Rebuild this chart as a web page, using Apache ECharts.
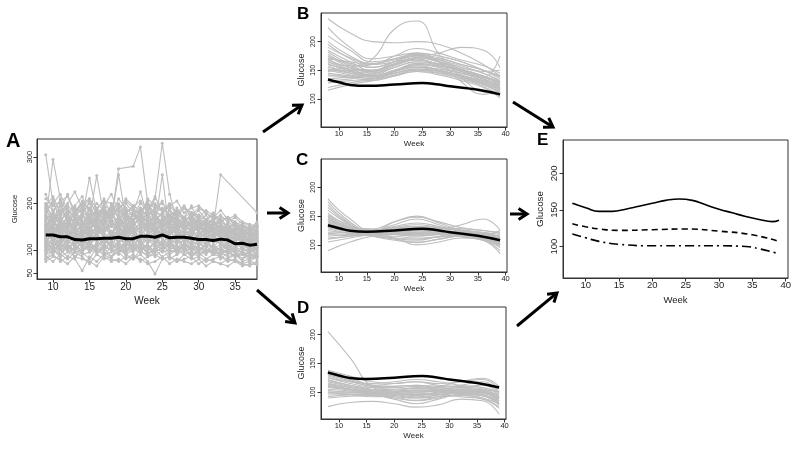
<!DOCTYPE html>
<html><head><meta charset="utf-8">
<script src="https://cdn.jsdelivr.net/npm/echarts@6/dist/echarts.min.js"></script>
<style>html,body{margin:0;padding:0;background:#fff}#c{width:800px;height:451px}</style>
</head><body><div id="c"></div>
<script>
// ---------- DATA ----------
const weeksA = [9,10,11,12,13,14,15,16,17,18,19,20,21,22,23,24,25,26,27,28,29,30,31,32,33,34,35,36,37,38];
const linesA = [
[305,200,220,185,170,190,175,180,165,195,170,180,190,175,185,170,160,175,180,165,170,155,160,150,165,150,140,155,145,150],
[160,295,210,180,175,200,190,170,185,175,160,180,175,190,170,165,180,170,155,165,170,160,150,165,145,150,155,140,130,145],
[190,175,165,180,155,170,255,180,165,175,185,160,175,170,165,180,175,160,170,155,165,150,160,145,150,140,155,135,140,130],
[140,155,150,160,145,150,165,260,170,155,150,165,175,160,150,155,165,150,145,160,140,150,155,140,145,135,150,130,140,125],
[150,165,140,155,170,150,160,175,155,165,262,165,175,170,160,175,150,165,155,145,160,150,140,155,145,135,140,125,130,135],
[170,160,180,165,150,175,160,170,185,165,275,null,280,322,200,190,185,175,160,170,165,155,160,150,145,155,140,145,130,140],
[130,145,135,150,140,130,145,155,140,150,160,145,150,170,150,140,155,145,150,135,140,130,145,135,125,140,130,120,125,115],
[145,130,150,140,135,155,140,145,160,150,140,155,165,175,180,210,330,220,165,150,155,145,140,150,135,145,130,135,120,125],
[120,140,125,135,150,130,140,135,150,140,130,145,135,150,140,150,262,135,140,130,145,125,135,140,125,130,120,125,115,120],
[135,120,130,145,125,140,130,150,135,125,145,140,150,135,145,140,130,145,135,140,125,130,120,150,262,null,null,null,null,180],
[110,125,115,130,120,110,125,135,120,130,115,125,140,120,130,125,115,130,120,125,110,120,115,125,110,115,105,115,100,110],
[125,110,120,115,130,120,110,125,115,135,125,115,120,130,115,125,135,120,115,130,120,110,125,115,120,105,115,110,105,100],
[100,115,105,120,110,95,115,105,125,110,100,120,110,105,125,115,100,110,120,105,115,100,110,105,95,110,100,95,105,90],
[115,100,110,100,120,105,100,115,105,100,115,105,100,115,105,110,100,115,105,100,110,105,95,110,100,95,105,90,95,100],
[95,105,100,110,95,100,110,95,105,115,100,95,105,100,110,95,105,100,95,110,100,105,95,100,90,100,95,90,85,95],
[90,100,85,95,105,90,95,100,90,95,105,90,100,95,90,100,85,95,100,90,95,85,100,90,95,85,90,80,90,85],
[85,75,90,80,95,85,70,90,80,85,95,80,90,75,85,90,80,85,75,90,80,85,75,80,85,75,80,70,75,70],
[80,90,75,85,80,55,85,75,90,80,75,85,80,90,75,48,80,85,75,80,85,70,80,75,70,80,75,70,65,75],
[75,85,80,70,85,80,75,65,85,75,80,70,85,80,70,75,85,70,80,75,70,80,65,75,70,65,75,65,70,68],
[155,140,160,145,135,150,145,160,140,155,145,135,150,145,160,140,150,135,145,155,140,150,135,145,130,140,135,125,130,120],
[165,180,150,170,160,175,155,165,180,160,170,155,165,175,160,170,155,165,150,160,155,145,160,150,140,150,140,135,145,130],
[200,185,195,175,190,180,200,185,175,195,180,190,175,185,195,180,190,175,185,170,180,175,165,175,160,170,155,160,150,140],
[210,195,205,215,185,200,210,190,205,200,185,210,195,205,190,200,185,195,205,180,190,195,180,170,185,165,175,160,155,150],
[105,120,110,100,115,125,105,110,120,115,105,110,125,115,100,120,110,105,115,120,100,110,115,105,110,100,105,100,95,105],
[140,125,145,130,140,120,135,145,125,140,135,130,145,125,135,145,130,140,125,135,130,140,125,130,120,135,125,115,120,110],
[120,135,125,115,130,140,120,130,115,125,140,130,120,135,125,115,130,120,135,125,130,115,125,120,115,125,110,120,115,105],
[175,165,185,170,160,180,170,185,165,175,190,170,180,165,175,185,170,160,175,165,170,160,165,155,160,150,155,145,140,150],
[135,150,140,125,145,135,150,130,145,135,125,140,150,135,145,130,140,150,130,140,135,125,140,130,135,125,130,120,125,115],
[110,95,120,105,100,115,95,110,100,120,110,95,115,100,110,95,120,105,100,115,95,105,100,95,105,90,100,95,85,95],
[95,110,90,105,115,95,110,100,90,105,95,115,100,110,90,105,95,100,110,95,105,90,100,95,90,100,85,95,90,80],
[150,170,160,145,165,155,170,150,165,160,145,165,155,170,150,160,165,145,160,150,155,165,145,155,150,140,145,150,130,135],
[185,200,175,195,180,205,185,175,195,185,200,180,195,185,175,190,200,185,170,190,180,170,185,175,165,170,160,150,145,155],
[160,120,175,140,190,130,165,145,200,150,170,135,185,155,140,175,150,190,140,165,145,170,130,160,140,155,125,145,120,140],
[130,170,125,160,140,185,135,170,150,130,175,140,160,190,135,165,145,130,170,150,125,160,140,120,150,130,145,110,135,125],
[180,140,200,160,145,175,205,150,170,190,145,180,160,140,195,165,150,185,160,140,175,150,165,140,155,130,145,135,120,130],
[110,150,120,140,105,135,115,160,125,105,140,120,150,110,135,125,105,145,115,130,110,140,120,105,125,110,100,120,95,110],
[200,165,185,220,170,195,160,185,210,175,160,200,180,225,170,190,205,165,185,170,195,160,175,150,170,145,160,140,150,135],
[145,185,160,130,170,150,190,140,165,180,155,130,175,150,185,140,170,155,135,165,150,140,160,135,145,125,140,130,115,125],
[120,100,135,115,95,125,110,140,100,120,130,105,125,95,115,135,105,120,100,125,110,95,115,105,100,115,90,105,95,85],
[175,210,155,190,165,145,185,170,150,200,165,185,150,175,200,160,180,150,190,165,155,175,150,165,140,160,150,130,140,145],
[100,130,90,120,105,135,95,115,130,100,120,90,130,110,95,120,105,125,90,115,100,120,95,110,85,105,95,80,100,90],
[190,155,170,150,185,160,140,175,155,190,170,150,165,185,155,175,160,140,170,155,180,150,135,160,150,130,145,135,125,135],
[135,160,145,175,130,155,170,140,160,135,150,175,140,160,170,135,155,175,145,160,135,150,165,140,130,150,135,125,140,120],
[165,140,155,130,160,145,125,155,140,165,130,150,145,125,155,160,140,130,155,145,160,135,150,140,125,135,120,140,115,120],
[115,135,100,125,140,110,130,120,105,140,115,130,100,135,120,110,140,115,125,105,130,115,105,125,115,100,115,105,110,100],
[220,185,205,180,195,215,175,200,185,170,210,190,175,200,185,215,180,195,175,190,170,185,165,180,160,170,150,155,145,160],
[150,125,165,140,115,150,135,125,160,140,120,155,135,150,125,140,160,130,145,120,140,155,125,135,145,120,130,115,125,110],
[90,115,100,85,110,95,120,90,105,85,110,100,95,120,90,105,115,90,100,110,85,100,90,105,80,95,85,90,75,85],
[185,165,195,160,180,200,165,190,175,160,195,175,165,180,205,170,160,185,170,155,180,165,150,170,155,145,160,140,150,135],
[125,145,110,140,125,105,145,130,115,135,150,120,140,110,130,145,125,110,140,120,115,135,110,125,115,105,120,100,110,105],
[170,150,140,165,185,155,145,170,190,160,140,170,155,165,145,180,150,160,140,170,145,155,140,150,160,135,140,125,130,120],
[105,90,115,100,85,105,120,95,110,100,90,115,105,95,110,85,100,115,95,105,90,100,110,90,95,100,85,95,80,90],
[140,175,130,155,145,165,120,150,175,130,160,145,125,165,140,155,130,160,145,135,165,140,125,150,135,145,120,130,125,115],
[195,215,180,200,225,190,210,175,195,220,185,205,190,175,210,195,185,200,180,195,175,190,180,165,175,160,170,155,140,150],
[155,135,150,170,140,125,160,145,135,165,150,130,160,140,155,135,145,165,130,150,140,130,150,125,140,130,115,135,120,125],
[80,100,90,110,85,95,80,105,95,85,100,90,80,100,85,95,105,80,90,100,85,95,80,90,85,80,90,75,80,85]
];
const meanA = [132,132,128,128,122,121,124,124,125,125,127,124,124,129,129,127,132,126,127,127,125,122,122,120,123,121,113,114,110,112];

const knotWeeks = [8,12,16,20,24,28,32,36,39];
const curvesB = [
[240,215,200,198,200,195,180,160,140],
[225,190,170,175,180,175,165,150,135],
[210,185,165,170,178,168,155,145,130],
[200,175,162,168,176,172,160,150,138],
[195,170,155,165,175,165,152,140,125],
[190,172,160,175,188,180,168,158,145],
[185,165,150,160,170,160,150,140,128],
[182,160,145,155,165,158,148,135,120],
[178,158,150,162,172,165,155,145,132],
[175,155,140,150,160,155,145,132,118],
[172,162,155,165,180,175,165,150,140],
[170,150,138,148,158,150,140,128,115],
[168,155,148,160,168,160,148,138,125],
[165,150,142,155,165,162,152,140,130],
[162,148,140,150,162,156,142,130,118],
[160,152,150,165,175,168,158,148,150],
[158,145,138,148,155,148,138,125,112],
[155,148,145,158,168,160,150,138,128],
[152,145,140,150,160,158,148,135,120],
[150,142,135,145,152,150,140,128,115],
[148,150,148,160,172,165,150,138,175],
[145,140,135,142,150,148,138,125,110],
[142,138,132,140,148,145,135,122,105],
[140,140,140,150,158,150,140,132,125],
[135,138,140,148,155,152,145,135,122],
[128,132,135,145,152,148,138,128,115],
[120,128,135,145,150,145,135,125,110],
[115,125,132,140,148,142,132,120,102],
[165,158,170,222,236,178,138,112,108],
[170,165,160,165,172,180,190,185,155],
[150,155,160,170,178,165,130,108,115],
[132,135,145,160,172,170,160,150,140]
];
const curvesC = [
[180,145,125,128,130,128,125,120,115],
[175,140,122,125,128,126,122,118,112],
[170,138,125,135,145,135,122,115,110],
[160,135,120,122,125,124,120,115,108],
[155,132,124,140,150,138,125,118,112],
[150,130,122,118,115,118,120,118,115],
[148,128,120,122,124,122,118,112,105],
[145,130,125,130,132,130,128,125,120],
[142,128,122,112,108,115,122,120,112],
[140,125,118,120,122,120,116,110,102],
[138,126,122,125,128,128,135,145,125],
[135,124,120,118,118,120,118,112,105],
[132,122,118,122,126,124,118,110,100],
[130,125,124,128,132,130,126,122,118],
[128,120,115,110,104,110,115,110,100],
[125,120,118,120,120,118,114,108,98],
[122,122,124,130,135,130,125,120,115],
[120,118,116,115,112,114,115,110,102],
[118,116,118,122,125,124,122,118,125],
[115,118,120,118,116,118,118,112,100],
[112,115,118,112,100,105,112,108,95],
[110,115,120,125,128,126,120,114,108],
[105,112,118,120,122,122,120,116,110],
[90,105,115,118,120,118,115,108,85],
[135,130,128,140,148,140,130,125,122],
[165,135,118,112,110,114,116,110,104],
[145,125,115,108,105,110,115,108,90],
[152,134,126,132,138,132,124,116,108]
];
const curvesD = [
[205,160,110,100,100,102,105,100,95],
[138,128,118,115,118,115,118,122,105],
[135,125,112,110,112,108,112,118,100],
[130,120,110,108,110,106,108,112,98],
[128,118,112,115,118,112,110,108,95],
[125,115,108,105,102,104,108,106,92],
[122,112,105,102,100,102,106,104,90],
[120,112,108,110,112,110,108,102,88],
[118,110,104,100,96,100,104,102,90],
[116,108,102,98,94,98,103,100,85],
[114,108,104,105,106,104,102,98,88],
[112,106,100,95,90,95,102,100,92],
[110,105,102,102,104,102,100,96,85],
[108,104,100,98,96,98,100,98,90],
[105,102,98,92,86,92,100,100,95],
[103,100,98,100,102,100,98,94,82],
[100,100,99,96,92,95,98,95,80],
[98,98,98,95,95,96,98,94,78],
[95,96,96,100,108,104,96,90,75],
[92,95,95,90,85,90,96,94,85],
[90,93,94,92,90,92,94,90,80],
[75,82,84,80,74,78,88,85,62],
[125,118,115,118,122,118,112,108,100],
[132,122,112,108,106,110,118,124,110],
[110,104,96,88,80,88,98,104,100],
[100,96,92,94,98,96,92,88,72]
];
const overallWeeks = [8,10,12,15,20,25,28,30,35,39];
const overallCurve = [134,129,124.5,123,125,128,125,122,116,108];

const eWeeksHigh = [8,10,12,14,16,18,20,22,24,26,28,30,32,34,36,38,39];
const clusterHigh = [159,153,148,148,151,155,159,163,165,163,157,151,146,141,137,134,136];
const eWeeksMid = [8,10,12,15,20,25,30,35,39];
const clusterMid = [131,127,124,122,123,124,121,116,107];
const eWeeksLow = [8,10,12,15,20,25,30,34,36,39];
const clusterLow = [117,112,107,103,101,101,101,100,97,90];

const xTicksA = [10,15,20,25,30,35];
const yTicksA = [50,100,200,300];
const xTicks = [10,15,20,25,30,35,40];
const yTicks = [100,150,200];

// ---------- CHART ----------
const FONT = 'Liberation Sans';
const GRAY = '#bebebe';
const grids = [
  {left:37, top:139, width:220, height:140},
  {left:321, top:13, width:186, height:114},
  {left:321, top:159, width:186, height:113},
  {left:321, top:307, width:185, height:112},
  {left:563, top:140, width:225, height:138}
].map(g => Object.assign({show:true, borderColor:'#333', borderWidth:1, backgroundColor:'#fff'}, g));

const xr = [[7.8,38.0],[6.75,40.25],[6.75,40.25],[6.75,40.25],[6.6,40.35]];
const yr = [[37,339],[51,250],[53,249],[53.5,247.6],[57,245.5]];
const hf = [10,7.5,7.5,7.5,9.5];   // horizontal text size
const vf = [7.5,6.5,6.5,6.5,9.5];  // rotated tick text size
const nf = [10,8,8,8,9.5];         // x title size
const gf = [7.8,9,9,9,9.8];        // y title size

const xAxis = [], yAxis = [];
for (let i = 0; i < 5; i++) {
  const xt = i === 0 ? xTicksA : xTicks;
  const yt = i === 0 ? yTicksA : yTicks;
  xAxis.push({type:'value', gridIndex:i, min:xr[i][0], max:xr[i][1],
    splitLine:{show:false}, axisLine:{show:true, lineStyle:{color:'#333', width:1}},
    axisTick:{show:true, length:3.5, customValues:xt, lineStyle:{color:'#333'}},
    axisLabel:{customValues:xt, fontSize:hf[i], color:'#222', fontFamily:FONT, margin:i===0?3:2.5},
    name:'Week', nameLocation:'middle', nameGap:i===0?17:(i===4?17:13),
    nameTextStyle:{fontSize:nf[i], color:'#222', fontFamily:FONT}});
  yAxis.push({type:'value', gridIndex:i, min:yr[i][0], max:yr[i][1],
    splitLine:{show:false}, axisLine:{show:true, lineStyle:{color:'#333', width:1}},
    axisTick:{show:true, length:3.5, customValues:yt, lineStyle:{color:'#333'}},
    axisLabel:{customValues:yt, rotate:90, fontSize:vf[i], color:'#222', fontFamily:FONT, margin:i===0?3:4},
    name:'Glucose', nameLocation:'middle', nameGap:i===0?18:(i===4?18:15),
    nameTextStyle:{fontSize:gf[i], color:'#222', fontFamily:FONT}});
}

const series = [];
function pairs(xs, ys){ return xs.map((x,i)=>[x, ys[i]]); }
linesA.forEach(l => series.push({type:'line', xAxisIndex:0, yAxisIndex:0, data:pairs(weeksA,l),
  connectNulls:true, symbol:'circle', symbolSize:3, itemStyle:{color:GRAY},
  lineStyle:{color:GRAY, width:1.1}, silent:true, z:2}));
series.push({type:'line', xAxisIndex:0, yAxisIndex:0, data:pairs(weeksA,meanA), symbol:'none',
  lineStyle:{color:'#000', width:3}, silent:true, z:5});

[curvesB, curvesC, curvesD].forEach((set, k) => {
  const gi = k + 1;
  set.forEach(c => series.push({type:'line', xAxisIndex:gi, yAxisIndex:gi, data:pairs(knotWeeks,c),
    smooth:0.5, symbol:'none', lineStyle:{color:GRAY, width:1.1}, silent:true, z:2}));
  series.push({type:'line', xAxisIndex:gi, yAxisIndex:gi, data:pairs(overallWeeks,overallCurve),
    smooth:0.5, symbol:'none', lineStyle:{color:'#000', width:2.5}, silent:true, z:5});
});

series.push({type:'line', xAxisIndex:4, yAxisIndex:4, data:pairs(eWeeksHigh,clusterHigh), smooth:0.5,
  symbol:'none', lineStyle:{color:'#000', width:1.6}, silent:true});
series.push({type:'line', xAxisIndex:4, yAxisIndex:4, data:pairs(eWeeksMid,clusterMid), smooth:0.5,
  symbol:'none', lineStyle:{color:'#000', width:1.6, type:[6,4]}, silent:true});
series.push({type:'line', xAxisIndex:4, yAxisIndex:4, data:pairs(eWeeksLow,clusterLow), smooth:0.5,
  symbol:'none', lineStyle:{color:'#000', width:1.6, type:[9,4,2,4]}, silent:true});

// ---------- DECORATION: arrows & panel letters ----------
function arrow(x1,y1,x2,y2){
  const ang = Math.atan2(y2-y1, x2-x1), L = 10, a = Math.PI/5.5;
  const p1 = [x2 - L*Math.cos(ang-a), y2 - L*Math.sin(ang-a)];
  const p2 = [x2 - L*Math.cos(ang+a), y2 - L*Math.sin(ang+a)];
  return [
    {type:'line', shape:{x1:x1,y1:y1,x2:x2-1.5*Math.cos(ang),y2:y2-1.5*Math.sin(ang)}, style:{stroke:'#000', lineWidth:3}, silent:true},
    {type:'polyline', shape:{points:[p1,[x2,y2],p2]}, style:{stroke:'#000', lineWidth:3, fill:null, lineJoin:'miter'}, silent:true}
  ];
}
function letter(t,x,y,s){ return {type:'text', left:x, top:y, style:{text:t, fontSize:s, fontWeight:'bold', fontFamily:FONT, fill:'#000'}, silent:true}; }
const graphic = [].concat(
  arrow(263,132,302,105), arrow(267,213,288,213), arrow(257,290,295,323),
  arrow(513,102,553,127), arrow(510,214,527,214), arrow(517,326,557,293),
  [letter('A',6,131,20), letter('B',297,6,17), letter('C',296,152,17), letter('D',297,300,17), letter('E',537,132,17)]
);

const chart = echarts.init(document.getElementById('c'), null, {renderer:'canvas'});
chart.setOption({animation:false, backgroundColor:'#fff', grid:grids, xAxis:xAxis, yAxis:yAxis, series:series, graphic:graphic});
</script></body></html>
